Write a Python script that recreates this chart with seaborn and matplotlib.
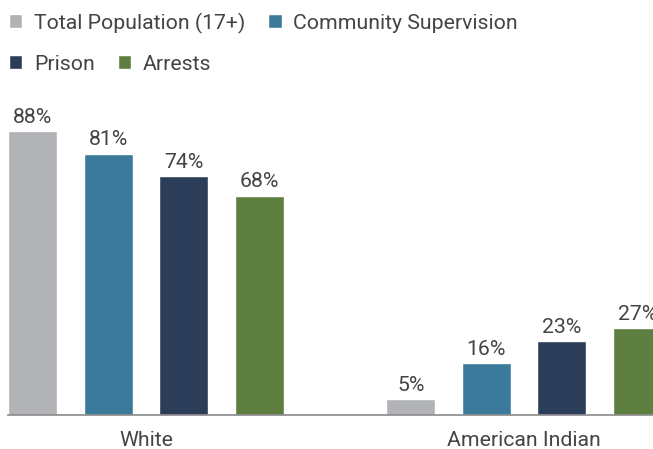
import matplotlib
matplotlib.use("Agg")
import matplotlib.pyplot as plt
import seaborn as sns
import pandas as pd

groups = ["White", "American Indian"]
series = ["Total Population (17+)", "Community Supervision", "Prison", "Arrests"]
total_population = [88, 5]
community_supervision = [81, 16]
prison = [74, 23]
arrests = [68, 27]
colors = ["#b1b3b6", "#3b7a9a", "#2c3d5a", "#5f7f40"]

rows = []
for name, vals in zip(series, [total_population, community_supervision, prison, arrests]):
    for g, v in zip(groups, vals):
        rows.append({"group": g, "series": name, "value": v})
df = pd.DataFrame(rows)

sns.set_theme(style="white")
plt.rcParams["font.family"] = ["Roboto", "DejaVu Sans"]
text_color = "#444444"
fs = 15.3

fig = plt.figure(figsize=(6.53, 4.49), dpi=100)
ax = fig.add_axes([8 / 653, 34 / 449, 1 - 8 / 653, 322.7 / 449])

sns.barplot(data=df, x="group", y="value", hue="series", hue_order=series,
            palette=colors, width=0.8, gap=0.35, saturation=1, ax=ax,
            legend=True)

for cont in ax.containers:
    ax.bar_label(cont, labels=[f"{int(v)}%" for v in cont.datavalues],
                 padding=3, fontsize=fs, color=text_color)

ax.set_xlim(-0.365, 1.341)
ax.set_ylim(0, 100)
ax.set_xlabel("")
ax.set_ylabel("")
ax.set_yticks([])
for s in ["top", "left", "right"]:
    ax.spines[s].set_visible(False)
ax.spines["bottom"].set_color("#8a8a8a")
ax.spines["bottom"].set_linewidth(1.2)
ax.tick_params(axis="x", length=0, pad=11.5, labelsize=fs, labelcolor=text_color)

handles, labels = ax.get_legend_handles_labels()
ax.get_legend().remove()

common = dict(frameon=False, fontsize=fs, labelcolor=text_color,
              handlelength=0.62, handleheight=0.62, handletextpad=0.55,
              columnspacing=1.1, borderaxespad=0, borderpad=0)
leg1 = fig.legend(handles[:2], labels[:2], ncol=2, loc="center left",
                  bbox_to_anchor=(9 / 653, 1 - 23 / 449), **common)
leg2 = fig.legend(handles[2:], labels[2:], ncol=2, loc="center left",
                  bbox_to_anchor=(9 / 653, 1 - 64 / 449), **common)

fig.savefig("out.png", dpi=100)
